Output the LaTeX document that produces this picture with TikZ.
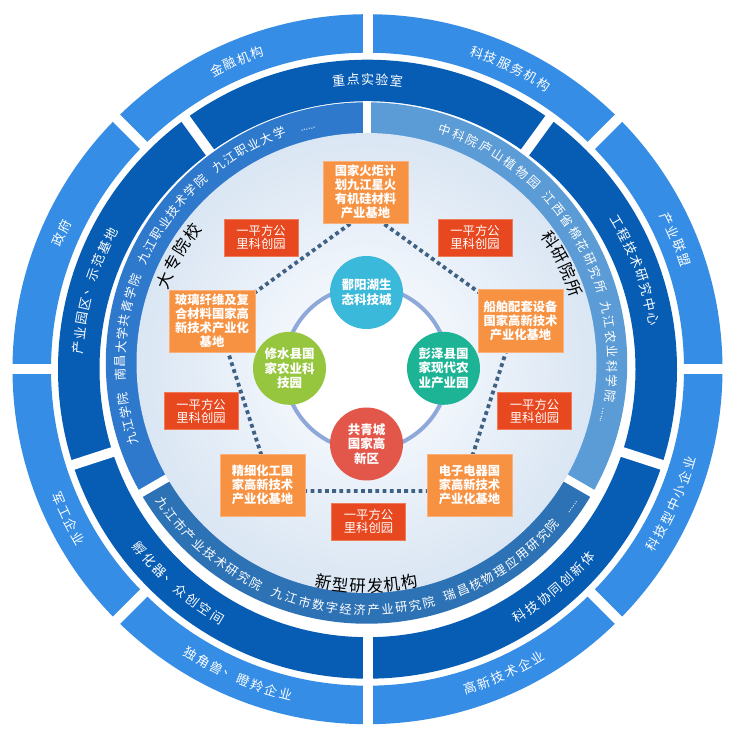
\documentclass[tikz,border=0pt]{standalone}
\usepackage{fontspec}
\setmainfont{Noto Sans CJK SC}
\usetikzlibrary{calc}
\pgfdeclarelayer{bg}\pgfdeclarelayer{mid}\pgfsetlayers{bg,mid,main}
\definecolor{outerc}{HTML}{368DE6}
\definecolor{darkc}{HTML}{075CB4}
\definecolor{innA}{HTML}{2F79CD}
\definecolor{innB}{HTML}{5B9BD6}
\definecolor{innC}{HTML}{2E72B6}
\definecolor{discOut}{HTML}{DAE6F3}
\definecolor{discIn}{HTML}{F2F6FC}
\definecolor{connc}{HTML}{8FA8DA}
\definecolor{orgc}{HTML}{F79243}
\definecolor{orgl}{HTML}{FAB07A}
\definecolor{redc}{HTML}{E8481F}
\definecolor{redl}{HTML}{F07A58}
\definecolor{cyanc}{HTML}{3BB9DA}
\definecolor{greenc}{HTML}{95C63E}
\definecolor{tealc}{HTML}{1CB494}
\definecolor{hubred}{HTML}{E3574A}
\definecolor{dotc}{HTML}{3F6184}
\newcounter{rsch}
\newcommand\rscharat[6]{\stepcounter{rsch}\node[#5,rotate=#4] (ch\arabic{rsch}) at ($(#1)+(#2:#3)$) {#6};}
\ExplSyntaxOn
\int_new:N \l_rs_n_int
\int_new:N \l_rs_i_int
\fp_new:N \l_rs_a_fp
\fp_new:N \l_rs_r_fp
\NewDocumentCommand \arcword { m m m m m m }
 {
  \int_set:Nn \l_rs_n_int { \tl_count:n {#6} }
  \int_zero:N \l_rs_i_int
  \tl_map_inline:nn {#6}
   {
    \fp_set:Nn \l_rs_a_fp { #3 + ( ( \int_use:N \l_rs_n_int - 1 ) / 2 - \int_use:N \l_rs_i_int ) * ( #4 ) }
    \fp_set:Nn \l_rs_r_fp { \l_rs_a_fp - 90 * sign ( #4 ) }
    \edef \rsang { \fp_use:N \l_rs_a_fp }
    \edef \rsrot { \fp_use:N \l_rs_r_fp }
    \rscharat {#1} {\rsang} {#2} {\rsrot} {#5} {##1}
    \int_incr:N \l_rs_i_int
   }
 }
\ExplSyntaxOff
\begin{document}
\begin{tikzpicture}[x=1pt,y=1pt,
  orangebox/.style={fill=orgc,draw=orgl,line width=0.8pt,minimum width=85pt,minimum height=62pt,inner sep=0pt,align=center,text=white,font=\bfseries\fontsize{12.3}{14}\selectfont},
  redbox/.style={fill=redc,draw=redl,line width=0.8pt,minimum width=74pt,minimum height=37pt,inner sep=0pt,align=center,text=white,font=\fontsize{12.3}{12.8}\selectfont},
  hub/.style={circle,minimum size=73pt,inner sep=0pt,align=center,text=white,font=\bfseries\fontsize{12.5}{14.5}\selectfont},
  ringtxt/.style={text=white,inner sep=0pt,font=\fontsize{13}{13}\selectfont},
  inntxt/.style={text=white,inner sep=0pt,font=\fontsize{12.3}{12.3}\selectfont},
  dottxt/.style={text=white,inner sep=0pt,font=\fontsize{9}{9}\selectfont},
  lbltxt/.style={text=black,inner sep=0pt,font=\fontsize{16.5}{16.5}\selectfont},
  dotline/.style={dotc,line width=3.8pt,dash pattern=on 3.8pt off 3.4pt}]
\useasboundingbox (0,0) rectangle (753,748);
\coordinate (C1) at (367.5,378.8);
\coordinate (C2) at (366.5,385);
\coordinate (M) at (366.5,379.7);
\begin{pgfonlayer}{bg}
\fill[white] (0,0) rectangle (753,748);
\fill[outerc,even odd rule] (C1) circle[radius=355] (C1) circle[radius=316.5];
\fill[darkc,even odd rule] (C1) circle[radius=309.5] (C1) circle[radius=268];
\foreach \a in {0,45,...,315} \draw[white,line width=10pt] ($(C1)+(\a:313)$) -- ($(C1)+(\a:362)$);
\foreach \a in {-18,54,126,198,270} \draw[white,line width=10pt] ($(C1)+(\a:250)$) -- ($(C1)+(\a:313)$);
\fill[innA] (C2) -- ($(C2)+(90:260.7)$) arc[start angle=90,end angle=210,radius=260.7] -- cycle;
\fill[innB] (C2) -- ($(C2)+(-30:260.7)$) arc[start angle=-30,end angle=90,radius=260.7] -- cycle;
\fill[innC] (C2) -- ($(C2)+(210:260.7)$) arc[start angle=210,end angle=330,radius=260.7] -- cycle;
\foreach \a in {90,210,330} \draw[white,line width=8pt] ($(C2)+(\a:220)$) -- ($(C2)+(\a:262)$);
\foreach \k in {0,...,40}{
  \pgfmathsetmacro\rr{230-\k*3.7}
  \pgfmathsetmacro\pp{\k*2.5}
  \fill[discIn!\pp!discOut] (C2) circle[radius=\rr];
}
\draw[connc,line width=4pt,fill=white] (M) circle[radius=82];
\end{pgfonlayer}
% pentagon vertices
\coordinate (pT) at (367,536.4);
\coordinate (pL) at (217.5,428.5);
\coordinate (pR) at (516.5,428.5);
\coordinate (pLL) at (273,257);
\coordinate (pLR) at (461,257);
\begin{pgfonlayer}{mid}
\draw[dotline] (pT) -- (pR) -- (pLR) -- (pLL) -- (pL) -- cycle;
\end{pgfonlayer}
% orange boxes
\node[orangebox] (b1) at (365.5,556) {国家火炬计\\划九江星火\\有机硅材料\\产业基地};
\node[orangebox,minimum width=86pt] (b2) at (212,427) {玻璃纤维及复\\合材料国家高\\新技术产业化\\基地};
\node[orangebox,minimum height=63pt] (b3) at (520.5,427.5) {船舶配套设备\\国家高新技术\\产业化基地};
\node[orangebox] (b4) at (262.5,263) {精细化工国\\家高新技术\\产业化基地};
\node[orangebox] (b5) at (469.5,263) {电子电器国\\家高新技术\\产业化基地};
% red boxes
\node[redbox] (r1) at (261,510.5) {一平方公\\里科创园};
\node[redbox] (r2) at (475,510.5) {一平方公\\里科创园};
\node[redbox] (r3) at (201,337) {一平方公\\里科创园};
\node[redbox] (r4) at (534.5,337) {一平方公\\里科创园};
\node[redbox] (r5) at (368.5,226.5) {一平方公\\里科创园};
% hubs
\node[hub,fill=cyanc] (h1) at (366.5,455.5) {鄱阳湖生\\态科技城};
\node[hub,fill=greenc] (h2) at (289.5,379.7) {修水县国\\家农业科\\技园};
\node[hub,fill=tealc] (h3) at (443.5,379.7) {彭泽县国\\家现代农\\业产业园};
\node[hub,fill=hubred] (h4) at (366.5,304) {共青城\\国家高\\新区};
% outer ring texts
\arcword{C1}{335}{113}{2.53}{ringtxt}{金融机构}
\arcword{C1}{335}{64.6}{2.53}{ringtxt}{科技服务机构}
\arcword{C1}{335}{22.8}{2.53}{ringtxt}{产业联盟}
\arcword{C1}{335}{-23.9}{-2.53}{ringtxt}{科技型中小企业}
\arcword{C1}{335}{-65.8}{-2.53}{ringtxt}{高新技术企业}
\arcword{C1}{335}{247}{-2.53}{ringtxt}{独角兽、瞪羚企业}
\arcword{C1}{335}{206.5}{-2.53}{ringtxt}{军工企业}
\arcword{C1}{335}{156}{2.53}{ringtxt}{政府}
% dark ring texts
\arcword{C1}{290}{90}{2.85}{ringtxt}{重点实验室}
\arcword{C1}{290}{20.3}{2.95}{ringtxt}{工程技术研究中心}
\arcword{C1}{290}{-49.5}{-2.95}{ringtxt}{科技协同创新体}
\arcword{C1}{290}{228.5}{-2.95}{ringtxt}{孵化器、众创空间}
\arcword{C1}{290}{164}{2.95}{ringtxt}{产业园区、示范基地}
% inner ring texts
\arcword{C2}{246}{118.8}{3.2}{inntxt}{九江职业大学}
\arcword{C2}{246}{143.6}{3.2}{inntxt}{九江职业技术学院}
\arcword{C2}{246}{171.6}{3.2}{inntxt}{南昌大学共青学院}
\arcword{C2}{246}{193.2}{3.2}{inntxt}{九江学院}
\rscharat{C2}{104}{241}{14}{dottxt}{......}
\arcword{C2}{246}{59.3}{3.45}{inntxt}{中科院庐山植物园}
\arcword{C2}{246}{30.1}{3.45}{inntxt}{江西省棉花研究所}
\arcword{C2}{246}{2.7}{3.45}{inntxt}{九江农业科学院}
\rscharat{C2}{-12.5}{241}{-102.5}{dottxt}{......}
\arcword{C2}{247}{229}{-3.23}{inntxt}{九江市产业技术研究院}
\arcword{C2}{247}{266.8}{-3.23}{inntxt}{九江市数字经济产业研究院}
\arcword{C2}{247}{304.3}{-3.23}{inntxt}{瑞昌核物理应用研究院}
\rscharat{C2}{325}{252}{55}{dottxt}{......}
% labels
\arcword{C2}{218}{150.3}{4.9}{lbltxt}{大专院校}
\arcword{C2}{221}{26.8}{4.7}{lbltxt}{科研院所}
\arcword{C2}{223}{270}{-4.4}{lbltxt}{新型研发机构}
\end{tikzpicture}
\end{document}
